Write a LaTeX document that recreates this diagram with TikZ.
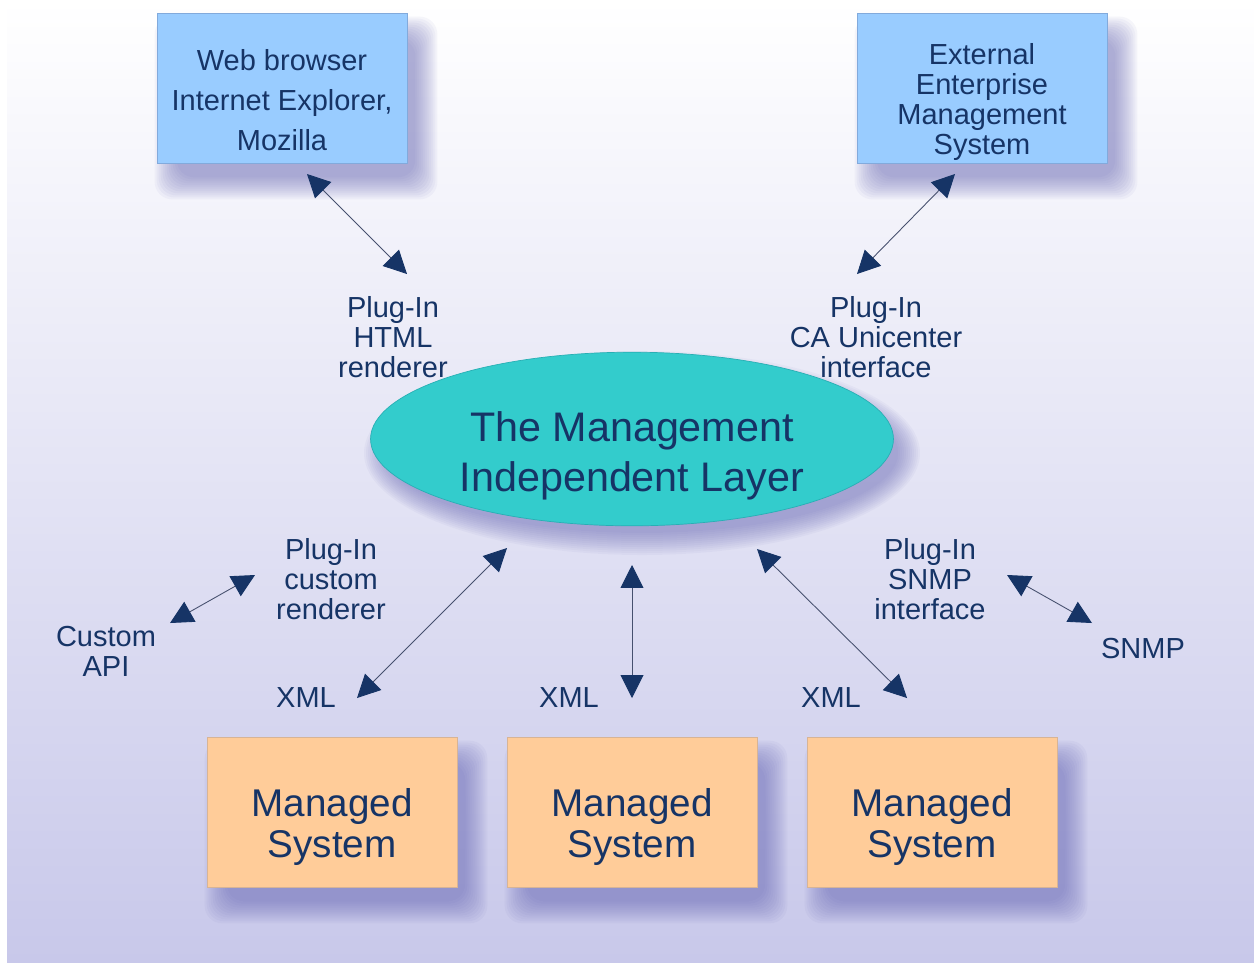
\documentclass[tikz,border=0pt]{standalone}
\usepackage{fontspec}
\setmainfont{Liberation Sans}
\usepackage{tikz}
\usetikzlibrary{positioning,calc,backgrounds,shapes.geometric,arrows.meta}

\definecolor{navy}{RGB}{22,52,102}
\definecolor{linkgray}{RGB}{70,80,110}
\definecolor{boxblue}{RGB}{153,204,255}
\definecolor{blueedge}{RGB}{130,170,220}
\definecolor{boxorange}{RGB}{255,204,153}
\definecolor{orangeedge}{RGB}{215,180,150}
\definecolor{layerteal}{RGB}{51,204,204}
\definecolor{tealedge}{RGB}{40,175,180}
\definecolor{bgbottom}{RGB}{200,200,234}
\definecolor{shadowc}{RGB}{100,100,180}

% soft shadow behind a box node / the ellipse
\newcommand\boxshadow[1]{%
  \foreach \k in {0,...,11}{%
    \pgfmathsetmacro\s{2*\k-6}
    \fill[shadowc,opacity=.055,rounded corners=10pt]
      ($(#1.south west)+(14-\s,20+\s)$) rectangle ($(#1.north east)+(14+\s,20-\s)$);}}
\newcommand\ovalshadow[1]{%
  \foreach \k in {0,...,11}{%
    \pgfmathsetmacro\s{2*\k-6}
    \fill[shadowc,opacity=.05]
      ($(#1.center)+(10,14)$) ellipse [x radius={(262+\s)*0.02cm},y radius={(86+\s)*0.02cm}];}}
\newcommand\padtop[1]{\rule{0pt}{#1}}

\tikzset{
  clientbox/.style={rectangle,fill=boxblue,draw=blueedge,line width=.4pt,
      minimum width=5cm,minimum height=3cm,align=center,text=navy,
      font=\fontsize{16.5}{22.8}\selectfont},
  extbox/.style={clientbox,inner ysep=0pt,font=\fontsize{16.5}{17.1}\selectfont},
  managedbox/.style={rectangle,fill=boxorange,draw=orangeedge,line width=.4pt,
      minimum width=5cm,minimum height=3cm,align=center,text=navy,
      font=\fontsize{22}{22.8}\selectfont},
  layer/.style={ellipse,fill=layerteal,draw=tealedge,line width=.4pt,inner sep=0pt,
      minimum width=10.46cm,minimum height=3.44cm,align=center,text=navy,
      font=\fontsize{23.5}{28.5}\selectfont},
  tag/.style={align=center,text=navy,inner sep=1pt,font=\fontsize{16.5}{17.1}\selectfont},
  link/.style={{Triangle[length=13pt,width=13pt,color=navy]}-{Triangle[length=13pt,width=13pt,color=navy]},
      draw=linkgray,line width=.5pt}
}

\begin{document}
\begin{tikzpicture}[x=0.02cm,y=-0.02cm]
  \useasboundingbox (0,0) rectangle (1254,968);
  \begin{scope}[on background layer]
    \shade[top color=white,bottom color=bgbottom] (7,0) rectangle (1254,962);
  \end{scope}

  % clients on top
  \node[clientbox] (web) at (282,88) {\padtop{26pt}Web browser\\Internet Explorer,\\Mozilla};
  \node[extbox] (ems) at (982,88) {\padtop{28pt}External\\Enterprise\\Management\\System};

  % the layer
  \node[layer] (mil) at (632,439) {\padtop{36.5pt}The Management\\Independent Layer};

  % managed systems
  \node[managedbox] (ms1) at (332,812) {\padtop{33pt}Managed\\System};
  \node[managedbox] (ms2) at (632,812) {\padtop{33pt}Managed\\System};
  \node[managedbox] (ms3) at (932,812) {\padtop{33pt}Managed\\System};

  \begin{scope}[on background layer]
    \boxshadow{web}
    \boxshadow{ems}
    \boxshadow{ms1}
    \boxshadow{ms2}
    \boxshadow{ms3}
    \ovalshadow{mil}
  \end{scope}

  % plug-ins and protocols
  \node[tag] (html) at (393,337) {Plug-In\\HTML\\renderer};
  \node[tag] (ca) at (876,337) {Plug-In\\CA Unicenter\\interface};
  \node[tag] (custom) at (331,579) {Plug-In\\custom\\renderer};
  \node[tag] (api) at (106,651) {Custom\\API};
  \node[tag] (snmpif) at (930,579) {Plug-In\\SNMP\\interface};
  \node[tag] (snmp) at (1143,649) {SNMP};
  \node[tag] (xml1) at (306,698) {XML};
  \node[tag] (xml2) at (569,698) {XML};
  \node[tag] (xml3) at (831,698) {XML};

  % arrow ends
  \coordinate (w1) at (307,174);
  \coordinate (w2) at (407,274);
  \coordinate (e1) at (955,174);
  \coordinate (e2) at (857,274);
  \coordinate (c1) at (170,623);
  \coordinate (c2) at (255,575);
  \coordinate (x1) at (357,698);
  \coordinate (x2) at (507,548);
  \coordinate (v1) at (632,565);
  \coordinate (v2) at (632,698);
  \coordinate (y1) at (757,549);
  \coordinate (y2) at (907,698);
  \coordinate (s1) at (1007,575);
  \coordinate (s2) at (1092,623);

  \draw[link] (w1) -- (w2);
  \draw[link] (e1) -- (e2);
  \draw[link] (c1) -- (c2);
  \draw[link] (x1) -- (x2);
  \draw[link] (v1) -- (v2);
  \draw[link] (y1) -- (y2);
  \draw[link] (s1) -- (s2);
\end{tikzpicture}
\end{document}
